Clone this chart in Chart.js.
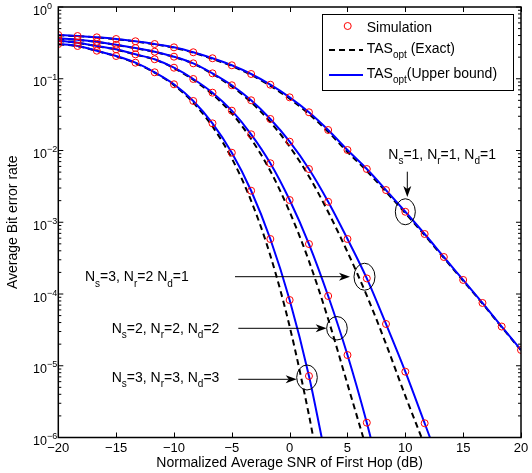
<!DOCTYPE html>
<html><head><meta charset="utf-8">
<script src="https://cdn.jsdelivr.net/npm/chart.js@4/dist/chart.umd.min.js"></script>
<style>html,body{margin:0;padding:0;background:#fff}#wrap{width:532px;height:473px;position:relative}</style>
</head><body><div id="wrap"><canvas id="c" width="532" height="473"></canvas></div>
<script>
// ---- data ----
const snrGrid = [-20,-18.33,-16.67,-15,-13.33,-11.67,-10,-8.33,-6.67,-5,-3.33,-1.67,0,1.67,3.33,5,6.67,8.33,10,11.67,13.33,15,16.67,18.33,20];
const xTickLabels = [-20,-15,-10,-5,0,5,10,15,20];
const yTickExponents = [0,-1,-2,-3,-4,-5,-6];

// Simulation points (lie on the upper bound)
const sim111 = [0.407,0.394,0.378,0.358,0.333,0.305,0.274,0.234,0.193,0.154,0.1165,0.0826,0.0551,0.0341,0.0193,0.01016,0.00552,0.00281,0.00140,6.86e-4,3.28e-4,1.57e-4,7.5e-5,3.52e-5,1.66e-5];
const sim321 = [0.366,0.350,0.328,0.298,0.268,0.238,0.203,0.164,0.119,0.0811,0.0501,0.0275,0.01327,0.00552,0.00193,5.84e-4,1.65e-4,3.82e-5,8.26e-6,1.58e-6];
const sim222 = [0.339,0.318,0.286,0.257,0.219,0.187,0.1426,0.0993,0.064,0.0359,0.01682,0.00664,0.00204,4.97e-4,9.38e-5,1.41e-5,1.61e-6];
const sim333 = [0.305,0.286,0.246,0.2075,0.1674,0.123,0.0837,0.049,0.0239,0.00931,0.00275,5.84e-4,8.24e-5,7.2e-6];

// Exact curves (dashed)
const ex111 = [0.405,0.392,0.376,0.356,0.331,0.302,0.271,0.231,0.189,0.150,0.113,0.0795,0.0527,0.0323,0.0182,0.00955,0.00518,0.00266,0.00134,6.6e-4,3.18e-4,1.53e-4,7.35e-5,3.46e-5,1.64e-5];
const ex321 = [0.364,0.348,0.326,0.296,0.266,0.236,0.201,0.1626,0.1168,0.0782,0.0471,0.02487,0.01133,0.004355,0.00139,3.85e-4,9.5e-5,2.01e-5,3.80e-6];
const ex222 = [0.337,0.316,0.284,0.255,0.217,0.185,0.1407,0.0967,0.0607,0.0328,0.01446,0.00518,0.001394,2.87e-4,4.48e-5,5.53e-6];
const ex333 = [0.303,0.284,0.244,0.205,0.165,0.1215,0.0816,0.0465,0.0216,0.00776,0.00199,3.44e-4,3.53e-5,2.05e-6];

// SNR where each curve leaves the plot at BER = 1e-6 (order: 3-2-1, 2-2-2, 3-3-3)
const boundExitSNR = [12.13, 7.0, 2.77];
const exactExitSNR = [11.4, 6.36, 2.04];
const berFloor = 1e-6;

// ---- helpers ----
const FONT = '"Liberation Sans", Arial, Helvetica, sans-serif';
const f = sz => sz + 'px ' + FONT;
function pts(ys, exit){
  const p = ys.map((v,i)=>({x:snrGrid[i], y:v}));
  if (exit !== undefined) p.push({x:exit, y:berFloor});
  return p;
}
function simDs(ys){ return {data:pts(ys), showLine:false, pointRadius:3.5, pointStyle:'circle',
  pointBorderColor:'#ff0000', pointBackgroundColor:'rgba(0,0,0,0)', pointBorderWidth:1, borderColor:'#ff0000', order:0}; }
function boundDs(ys, exit){ return {data:pts(ys, exit), borderColor:'#0000ff', borderWidth:2, pointRadius:0,
  cubicInterpolationMode:'monotone', fill:false, order:1}; }
function exactDs(ys, exit){ return {data:pts(ys, exit), borderColor:'#000000', borderWidth:2, borderDash:[6,4], pointRadius:0,
  cubicInterpolationMode:'monotone', fill:false, order:2}; }

function rich(ctx, parts, x, y, main, sub, dy){
  let cx = x;
  for (const [t, s] of parts){
    ctx.font = f(s ? sub : main);
    ctx.fillText(t, cx, y + (s ? dy : 0));
    cx += ctx.measureText(t).width;
  }
}
function arrow(ctx, x1, y1, x2, y2){
  const a = Math.atan2(y2-y1, x2-x1), L = 11, W = 4, N = 3;
  ctx.beginPath(); ctx.moveTo(x1,y1);
  ctx.lineTo(x2 - Math.cos(a)*(L-N), y2 - Math.sin(a)*(L-N)); ctx.stroke();
  ctx.save(); ctx.translate(x2,y2); ctx.rotate(a);
  ctx.beginPath(); ctx.moveTo(0,0); ctx.lineTo(-L,-W); ctx.lineTo(-L+N,0); ctx.lineTo(-L,W); ctx.closePath(); ctx.fill();
  ctx.restore();
}

const decor = {
  id:'decor',
  afterDraw(chart){
    const ctx = chart.ctx, ca = chart.chartArea, xs = chart.scales.x, ys = chart.scales.y;
    ctx.save();
    ctx.strokeStyle = '#000'; ctx.fillStyle = '#000';
    // ticks (inward)
    ctx.lineWidth = 1;
    ctx.beginPath();
    for (const v of xTickLabels){
      const px = Math.round(xs.getPixelForValue(v)) + 0.5;
      ctx.moveTo(px, ca.bottom); ctx.lineTo(px, ca.bottom - 5);
      ctx.moveTo(px, ca.top); ctx.lineTo(px, ca.top + 5);
    }
    for (const e of yTickExponents){
      const py = ys.getPixelForValue(Math.pow(10, e));
      ctx.moveTo(ca.left, py); ctx.lineTo(ca.left + 5, py);
      ctx.moveTo(ca.right, py); ctx.lineTo(ca.right - 5, py);
      if (e > -6) for (let m = 2; m <= 9; m++){
        const q = ys.getPixelForValue(m * Math.pow(10, e-1));
        ctx.moveTo(ca.left, q); ctx.lineTo(ca.left + 3, q);
        ctx.moveTo(ca.right, q); ctx.lineTo(ca.right - 3, q);
      }
    }
    ctx.stroke();
    // box
    ctx.lineWidth = 1.5;
    ctx.strokeRect(ca.left, ca.top, ca.right - ca.left, ca.bottom - ca.top);
    // x tick labels
    ctx.textAlign = 'center'; ctx.textBaseline = 'alphabetic'; ctx.font = f(13);
    for (const v of xTickLabels){
      const s = v < 0 ? '\u2212' + Math.abs(v) : String(v);
      ctx.fillText(s, xs.getPixelForValue(v), ca.bottom + 14.5);
    }
    // y tick labels 10^e
    for (const e of yTickExponents){
      const py = ys.getPixelForValue(Math.pow(10, e));
      ctx.textAlign = 'right'; ctx.font = f(12.5);
      ctx.fillText('10', 47, py + 7.5);
      ctx.textAlign = 'left'; ctx.font = f(9);
      ctx.fillText(e < 0 ? '\u2212' + Math.abs(e) : String(e), 47, py + 1.5);
    }
    // axis titles
    ctx.textAlign = 'center'; ctx.font = f(14);
    ctx.fillText('Normalized Average SNR of First Hop (dB)', (ca.left + ca.right)/2, 467.3);
    ctx.save(); ctx.translate(17, (ca.top + ca.bottom)/2); ctx.rotate(-Math.PI/2);
    ctx.fillText('Average Bit error rate', 0, 0); ctx.restore();

    // legend
    ctx.textAlign = 'left';
    ctx.fillStyle = '#fff'; ctx.fillRect(322.5, 14, 191, 76); ctx.fillStyle = '#000';
    ctx.lineWidth = 1; ctx.strokeRect(322.5, 14.5, 191, 76);
    ctx.strokeStyle = '#ff0000'; ctx.beginPath(); ctx.arc(347.7, 26, 3.5, 0, Math.PI*2); ctx.stroke();
    ctx.lineWidth = 2; ctx.strokeStyle = '#000'; ctx.setLineDash([6,4]);
    ctx.beginPath(); ctx.moveTo(329, 50); ctx.lineTo(363, 50); ctx.stroke(); ctx.setLineDash([]);
    ctx.strokeStyle = '#0000ff'; ctx.beginPath(); ctx.moveTo(329, 75); ctx.lineTo(363, 75); ctx.stroke();
    ctx.fillStyle = '#000';
    rich(ctx, [['Simulation',0]], 366.7, 31.5, 14, 10, 5);
    rich(ctx, [['TAS',0],['opt',1],[' (Exact)',0]], 366.7, 53, 14, 10, 5);
    rich(ctx, [['TAS',0],['opt',1],['(Upper bound)',0]], 366.7, 78, 14, 10, 5);

    // annotations
    ctx.strokeStyle = '#000'; ctx.fillStyle = '#000'; ctx.lineWidth = 1;
    const ell = [[10, 1.4e-3, 10, 13], [6.47, 1.74e-4, 10.5, 13.5], [4.09, 3.33e-5, 10.3, 11.7], [1.5, 6.86e-6, 10.3, 12.5]];
    for (const [vx, vy, rx, ry] of ell){
      ctx.beginPath(); ctx.ellipse(xs.getPixelForValue(vx), ys.getPixelForValue(vy), rx, ry, 0, 0, Math.PI*2); ctx.stroke();
    }
    arrow(ctx, 407.3, 171.7, 407.3, 197);
    arrow(ctx, 235, 276.7, 350, 276.7);
    arrow(ctx, 238.3, 328.3, 326.7, 328.3);
    arrow(ctx, 238.3, 379.3, 296.7, 379.3);
    rich(ctx, [['N',0],['s',1],['=1, N',0],['r',1],['=1, N',0],['d',1],['=1',0]], 388.3, 158.5, 14, 10, 5.5);
    rich(ctx, [['N',0],['s',1],['=3, N',0],['r',1],['=2 N',0],['d',1],['=1',0]], 85, 281, 14, 10, 5.5);
    rich(ctx, [['N',0],['s',1],['=2, N',0],['r',1],['=2, N',0],['d',1],['=2',0]], 111.7, 332.7, 14, 10, 5.5);
    rich(ctx, [['N',0],['s',1],['=3, N',0],['r',1],['=3, N',0],['d',1],['=3',0]], 111.7, 381.7, 14, 10, 5.5);
    ctx.restore();
  }
};

new Chart(document.getElementById('c'), {
  type:'line',
  data:{ datasets:[
    simDs(sim111), simDs(sim321), simDs(sim222), simDs(sim333),
    boundDs(sim111), boundDs(sim321, boundExitSNR[0]), boundDs(sim222, boundExitSNR[1]), boundDs(sim333, boundExitSNR[2]),
    exactDs(ex111), exactDs(ex321, exactExitSNR[0]), exactDs(ex222, exactExitSNR[1]), exactDs(ex333, exactExitSNR[2])
  ]},
  options:{
    responsive:false, animation:false, devicePixelRatio:1,
    layout:{padding:{top:7, right:11, left:0, bottom:0}},
    plugins:{legend:{display:false}, tooltip:{enabled:false}},
    scales:{
      x:{type:'linear', min:-20, max:20, ticks:{display:false}, grid:{display:false}, border:{display:false},
         afterFit(s){ s.height = 35.5; }},
      y:{type:'logarithmic', min:1e-6, max:1, ticks:{display:false}, grid:{display:false}, border:{display:false},
         afterFit(s){ s.width = 58.3; }}
    }
  },
  plugins:[decor]
});
</script></body></html>
